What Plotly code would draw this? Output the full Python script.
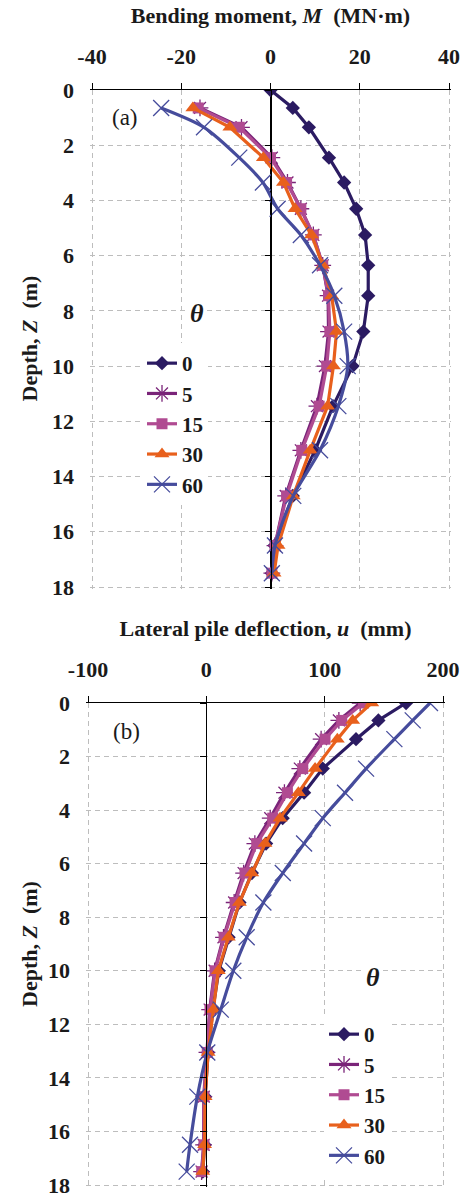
import plotly.graph_objects as go

# ---------------- data ----------------
depth = [0, 0.65, 1.35, 2.45, 3.35, 4.3, 5.25, 6.35, 7.45, 8.75, 10.0, 11.45, 13.05, 14.7, 16.5, 17.5]
theta_labels = ["0", "5", "15", "30", "60"]

# Bending moment M (MN·m)
M_0 = [0, 5.0, 8.6, 13.1, 16.5, 19.2, 21.2, 21.9, 21.9, 20.8, 18.4, 14.0, 10.0, 5.0, 0.9, 0.3]
M_5 = [None, -15.8, -6.5, 0.3, 3.8, 6.8, 9.6, 11.7, 12.9, 13.0, 12.2, 10.4, 6.8, 3.4, 1.0, 0.3]
M_15 = [None, -16.2, -7.0, 0.0, 3.6, 6.8, 9.6, 11.7, 13.0, 13.3, 12.6, 10.9, 7.0, 3.6, 1.0, 0.3]
M_30 = [None, -17.4, -9.1, -1.6, 2.9, 5.5, 9.2, 11.7, 13.7, 14.8, 14.1, 12.8, 8.9, 5.1, 1.7, 0.8]
M_60 = [None, -24.5, -14.9, -7.0, -1.7, 1.6, 6.8, 11.1, 14.3, 16.5, 17.3, 15.2, 11.1, 5.1, 1.0, 0.3]

# Lateral pile deflection u (mm)
U_0 = [168.8, 145.4, 126.5, 98.4, 82.6, 64.5, 50.5, 38.5, 28.0, 18.8, 10.5, 5.5, 1.5, -1.0, -1.5, -3.0]
U_5 = [130.0, 112.0, 97.0, 79.0, 66.0, 54.0, 41.0, 31.5, 23.5, 14.5, 7.0, 2.8, 0.5, -2.2, -2.3, -4.0]
U_15 = [132.7, 114.4, 100.3, 81.5, 68.5, 56.1, 42.6, 32.7, 24.3, 15.0, 7.4, 3.1, 0.8, -2.0, -2.0, -3.9]
U_30 = [139.8, 123.7, 110.7, 91.9, 77.8, 62.3, 49.6, 38.4, 27.9, 18.6, 10.1, 5.9, 1.5, -1.0, -1.5, -3.0]
U_60 = [189.0, 174.4, 158.9, 135.0, 117.2, 98.4, 82.6, 64.6, 48.2, 34.1, 22.8, 12.2, 0.8, -7.6, -13.8, -16.6]

M_ticks = [-40, -20, 0, 20, 40]
M_ticktext = ["-40", "-20", "0", "20", "40"]
U_ticks = [-100, 0, 100, 200]
U_ticktext = ["-100", "0", "100", "200"]
Z_ticks = [0, 2, 4, 6, 8, 10, 12, 14, 16, 18]

# ---------------- styles ----------------
colors = ["#2b1b62", "#7a2479", "#b04b92", "#e8601c", "#464c9c"]
symbols = ["diamond", "asterisk-open", "square", "triangle-up", "x-thin-open"]
msizes = [11, 14, 11, 13, 16]
shapes_line = ["linear", "linear", "linear", "linear", "spline"]

FONT = "Liberation Serif, Times New Roman, serif"
GRID = "#bdbdbd"
DASH = "5px,4px"

W, H = 466, 1199
ML, MR, MT, MB = 86, 15, 90, 9
pw = W - ML - MR
ph = H - MT - MB
PAD = 2  # px of extra room so edge grid lines are drawn

def fx(px):
    return (px - ML) / pw

def fy(py):
    return (H - MB - py) / ph

def x_setup(p0, p1, r0, r1):
    s = (r1 - r0) / (p1 - p0)
    return [fx(p0 - PAD), fx(p1 + PAD)], [r0 - PAD * s, r1 + PAD * s]

def y_setup(ptop, pbot, rtop, rbot):
    # reversed axis: rtop (0) at ptop, rbot (18) at pbot; pad only the bottom end
    s = (rbot - rtop) / (pbot - ptop)
    return [fy(pbot + PAD), fy(ptop)], [rbot + PAD * s, rtop]

x1_dom, x1_rng = x_setup(92, 449, -40, 40)
x2_dom, x2_rng = x_setup(88, 443, -100, 200)
y1_dom, y1_rng = y_setup(90, 587, 0, 18)
y2_dom, y2_rng = y_setup(703, 1185, 0, 18)

fig = go.Figure()

M_series = [M_0, M_5, M_15, M_30, M_60]
U_series = [U_0, U_5, U_15, U_30, U_60]

def add_series(xvals, xa, ya, lg, i, lab):
    open_sym = symbols[i].endswith("open")
    fig.add_trace(go.Scatter(
        x=xvals, y=depth, name=lab, xaxis=xa, yaxis=ya, legend=lg,
        mode="lines+markers",
        line=dict(color=colors[i], width=3.2, shape=shapes_line[i], smoothing=0.8),
        marker=dict(symbol=symbols[i], size=msizes[i], color=colors[i],
                    line=dict(width=1.3 if open_sym else 0, color=colors[i])),
    ))

for i, lab in enumerate(theta_labels):
    add_series(M_series[i], "x", "y", "legend", i, lab)
for i, lab in enumerate(theta_labels):
    add_series(U_series[i], "x2", "y2", "legend2", i, lab)

# dummy traces so the overlay axes (zero-line ticks) get drawn
fig.add_trace(go.Scatter(x=[None], y=[None], xaxis="x", yaxis="y3", showlegend=False, hoverinfo="skip"))
fig.add_trace(go.Scatter(x=[None], y=[None], xaxis="x2", yaxis="y4", showlegend=False, hoverinfo="skip"))

tickfont = dict(family=FONT, size=22, color="#1a1a1a", weight="bold")
titlefont = dict(family=FONT, size=22, color="#1a1a1a")

def xaxis(dom, rng, ticks, ticktext, anchor, title):
    return dict(
        domain=dom, range=rng, tickvals=ticks, ticktext=ticktext, side="top", anchor=anchor,
        showline=True, linecolor="black", linewidth=1,
        ticks="outside", ticklen=6, tickcolor="black", tickwidth=1,
        ticklabelstandoff=10, ticklabeloverflow="allow",
        showgrid=True, gridcolor=GRID, griddash=DASH, gridwidth=1,
        zeroline=True, zerolinecolor="black", zerolinewidth=1,
        tickfont=tickfont, title=dict(text=title, font=titlefont, standoff=14),
        automargin=False, fixedrange=True,
    )

def yaxis(dom, rng, anchor):
    return dict(
        domain=dom, range=rng, tickvals=Z_ticks, anchor=anchor,
        showline=False, ticks="", ticklabelstandoff=15, ticklabeloverflow="allow",
        showgrid=True, gridcolor=GRID, griddash=DASH, gridwidth=1,
        zeroline=False, tickfont=tickfont,
        automargin=False, fixedrange=True,
    )

def zero_pos(dom, rng):
    return dom[0] + (0 - rng[0]) / (rng[1] - rng[0]) * (dom[1] - dom[0])

def ytick_axis(over, rng, pos):
    return dict(
        overlaying=over, anchor="free", position=pos, range=rng, tickvals=Z_ticks,
        showline=True, linecolor="black", linewidth=1,
        ticks="outside", ticklen=6, tickcolor="black",
        showticklabels=False, showgrid=False, zeroline=False, fixedrange=True,
    )

legend_font = dict(family=FONT, size=21, color="#1a1a1a", weight="bold")

fig.update_layout(
    width=W, height=H,
    margin=dict(l=ML, r=MR, t=MT, b=MB),
    paper_bgcolor="white", plot_bgcolor="white",
    font=dict(family=FONT, color="#1a1a1a"),
    xaxis=xaxis(x1_dom, x1_rng, M_ticks, M_ticktext, "y", "<b>Bending moment, <i>M</i>  (MN·m)</b>"),
    yaxis=yaxis(y1_dom, y1_rng, "x"),
    xaxis2=xaxis(x2_dom, x2_rng, U_ticks, U_ticktext, "y2", "<b>Lateral pile deflection, <i>u</i>  (mm)</b>"),
    yaxis2=yaxis(y2_dom, y2_rng, "x2"),
    yaxis3=ytick_axis("y", y1_rng, zero_pos(x1_dom, x1_rng)),
    yaxis4=ytick_axis("y2", y2_rng, zero_pos(x2_dom, x2_rng)),
    legend=dict(x=fx(142), y=fy(343), xanchor="left", yanchor="top",
                bgcolor="white", borderwidth=0, font=legend_font, tracegroupgap=0),
    legend2=dict(x=fx(324), y=fy(1014), xanchor="left", yanchor="top",
                 bgcolor="white", borderwidth=0, font=legend_font, tracegroupgap=0),
    showlegend=True,
)

# y-axis titles (rotated)
for ptop, pbot in ((90, 587), (703, 1185)):
    fig.add_annotation(x=fx(29), y=fy((ptop + pbot) / 2), xref="paper", yref="paper",
                       text="<b>Depth, <i>Z</i>  (m)</b>", textangle=-90, showarrow=False,
                       xanchor="center", yanchor="middle", font=titlefont)

ann_font_theta = dict(family=FONT, size=26, color="#1a1a1a")
fig.add_annotation(x=-16.5, y=8.08, xref="x", yref="y", text="<b><i>θ</i></b>",
                   showarrow=False, font=ann_font_theta, bgcolor="white")
fig.add_annotation(x=140.9, y=10.26, xref="x2", yref="y2", text="<b><i>θ</i></b>",
                   showarrow=False, font=ann_font_theta, bgcolor="white")
fig.add_annotation(x=-32.6, y=0.98, xref="x", yref="y", text="(a)",
                   showarrow=False, font=dict(family=FONT, size=23, color="#1a1a1a"))
fig.add_annotation(x=-67.4, y=1.08, xref="x2", yref="y2", text="(b)",
                   showarrow=False, font=dict(family=FONT, size=23, color="#1a1a1a"))

fig.write_html("out.html")
